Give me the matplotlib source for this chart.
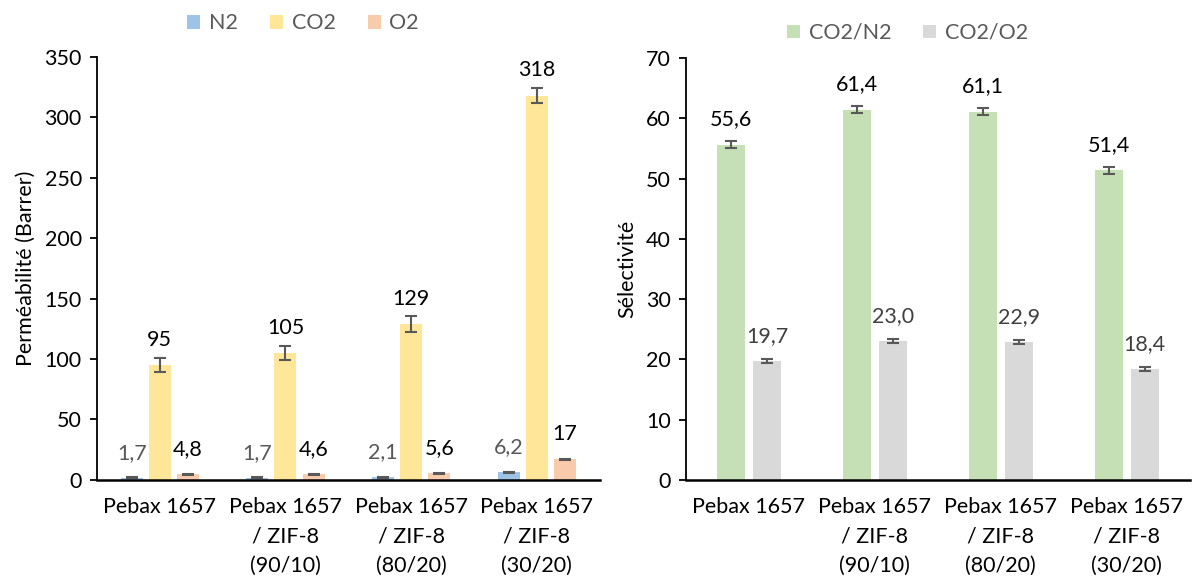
import numpy as np
import matplotlib
matplotlib.use("Agg")
import matplotlib.pyplot as plt

plt.rcParams['font.family'] = ['Lato', 'DejaVu Sans']

# Data
categories = ["Pebax 1657", "Pebax 1657\n/ ZIF-8\n(90/10)",
              "Pebax 1657\n/ ZIF-8\n(80/20)", "Pebax 1657\n/ ZIF-8\n(30/20)"]

n2 = [1.7, 1.7, 2.1, 6.2]
co2 = [95, 105, 129, 318]
o2 = [4.8, 4.6, 5.6, 17]
n2_err = [0.4, 0.4, 0.4, 0.6]
co2_err = [6, 6, 6.5, 6]
o2_err = [0.5, 0.5, 0.5, 0.6]
n2_lbl = ["1,7", "1,7", "2,1", "6,2"]
co2_lbl = ["95", "105", "129", "318"]
o2_lbl = ["4,8", "4,6", "5,6", "17"]

sel_n2 = [55.6, 61.4, 61.1, 51.4]
sel_o2 = [19.7, 23.0, 22.9, 18.4]
sel_n2_err = [0.6, 0.6, 0.6, 0.6]
sel_o2_err = [0.3, 0.3, 0.3, 0.3]
sel_n2_lbl = ["55,6", "61,4", "61,1", "51,4"]
sel_o2_lbl = ["19,7", "23,0", "22,9", "18,4"]

c_n2, c_co2, c_o2 = "#9DC3E6", "#FFE699", "#F8CBAD"
c_green, c_gray = "#C5E0B4", "#D9D9D9"
err_c = "#595959"
fs = 15.5

fig = plt.figure(figsize=(11.92, 5.86), dpi=100)
ax1 = fig.add_axes([0.0814, 0.181, 0.4216, 0.722])
ax2 = fig.add_axes([0.5755, 0.181, 0.4225, 0.720])

x = np.arange(len(categories))


def style(ax, ymax, step, ylabel):
    ax.set_xlim(-0.5, len(categories) - 0.5)
    ax.set_ylim(0, ymax)
    ax.set_yticks(np.arange(0, ymax + 1, step))
    ax.spines[['top', 'right']].set_visible(False)
    ax.spines['left'].set_linewidth(1.3)
    ax.spines['bottom'].set_linewidth(1.8)
    ax.tick_params(axis='y', length=5, width=1.3, labelsize=fs, pad=6)
    ax.tick_params(axis='x', length=0, labelsize=fs, pad=12)
    ax.set_xticks(x)
    ax.set_xticklabels(categories, linespacing=1.6)
    ax.set_ylabel(ylabel, fontsize=fs, labelpad=6)


def bars(ax, pos, vals, errs, lbls, color, w, lbl_color, name):
    ax.bar(pos, vals, w, color=color, label=name, zorder=2)
    ax.errorbar(pos, vals, yerr=errs, fmt='none', ecolor=err_c,
                elinewidth=1.5, capsize=4.5, capthick=1.5, zorder=3)
    for px, v, t in zip(pos, vals, lbls):
        ax.annotate(t, (px, v), xytext=(0, 11), textcoords='offset points',
                    ha='center', va='bottom', fontsize=fs, color=lbl_color)


# Left: permeability
w1 = 0.175
off1 = 0.224
bars(ax1, x - off1, n2, n2_err, n2_lbl, c_n2, w1, "#595959", "N2")
bars(ax1, x, co2, co2_err, co2_lbl, c_co2, w1, "black", "CO2")
bars(ax1, x + off1, o2, o2_err, o2_lbl, c_o2, w1, "black", "O2")
style(ax1, 350, 50, "Perméabilité (Barrer)")
ax1.legend(loc='lower center', bbox_to_anchor=(0.41, 1.02), ncol=3, frameon=False,
           fontsize=fs, handlelength=0.6, handleheight=0.6, handletextpad=0.4,
           columnspacing=1.5, labelcolor="#595959", borderpad=0.2)

# Right: selectivity
w2 = 0.22
off2 = 0.143
bars(ax2, x - off2, sel_n2, sel_n2_err, sel_n2_lbl, c_green, w2, "black", "CO2/N2")
bars(ax2, x + off2, sel_o2, sel_o2_err, sel_o2_lbl, c_gray, w2, "#404040", "CO2/O2")
style(ax2, 70, 10, "Sélectivité")
ax2.legend(loc='lower center', bbox_to_anchor=(0.44, 1.0), ncol=2, frameon=False,
           fontsize=fs, handlelength=0.6, handleheight=0.6, handletextpad=0.4,
           columnspacing=1.5, labelcolor="#595959", borderpad=0.2)

fig.savefig("out.png", dpi=100)
